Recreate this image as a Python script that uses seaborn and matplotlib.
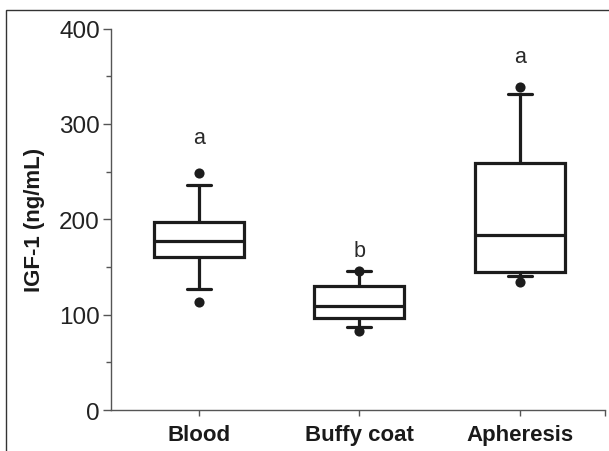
import matplotlib
matplotlib.use("Agg")
import matplotlib.pyplot as plt
from matplotlib.patches import Rectangle
from matplotlib.ticker import MultipleLocator
import seaborn as sns
import pandas as pd

# ---- data ----
categories = ["Blood", "Buffy coat", "Apheresis"]
whisker_low = [127, 87, 140]
q1 = [160, 96.5, 144.5]
median = [177, 109.5, 184]
q3 = [197.5, 130, 259]
whisker_high = [236, 146, 331.5]
outlier_low = [113, 82.5, 134.5]
outlier_high = [249, 146, 339]
letters = ["a", "b", "a"]
letter_y = [280, 161, 364.5]
y_ticks = [0, 100, 200, 300, 400]

# five-number table per group -> seaborn computes the same quartiles
rows = []
for c, a, b, m, d, e in zip(categories, whisker_low, q1, median, q3, whisker_high):
    for v in (a, b, m, d, e):
        rows.append({"group": c, "value": v})
box_df = pd.DataFrame(rows)

out_rows = []
for c, lo, hi in zip(categories, outlier_low, outlier_high):
    out_rows.append({"group": c, "value": lo})
    out_rows.append({"group": c, "value": hi})
out_df = pd.DataFrame(out_rows)

sns.set_style("ticks")
plt.rcParams["font.family"] = ["Liberation Sans", "DejaVu Sans"]

fig = plt.figure(figsize=(6.09, 4.52), dpi=100)
ax = fig.add_axes([0.1823, 0.0907, 0.9929 - 0.1823, 0.9347 - 0.0907])

ink = "#1c1c1c"
sns.boxplot(data=box_df, x="group", y="value", order=categories, ax=ax,
            color="white", linecolor=ink, linewidth=2.3, width=0.56,
            whis=(0, 100), showfliers=False, capwidths=0.15)
sns.stripplot(data=out_df, x="group", y="value", order=categories, ax=ax,
              jitter=False, color=ink, size=7.3, linewidth=0, zorder=5)

for i, (lab, yv) in enumerate(zip(letters, letter_y)):
    ax.text(i, yv, lab, ha="center", va="baseline", fontsize=15.5, color="#2a2a2a")

ax.set_ylim(0, 400)
ax.set_xlim(-0.547, 2.528)
ax.set_yticks(y_ticks)
ax.yaxis.set_minor_locator(MultipleLocator(50))
ax.set_xticks([0, 1, 2, 2.528])
ax.set_xticklabels(categories + [""], fontsize=16, fontweight="bold", color="#1a1a1a")
ax.tick_params(axis="y", labelsize=17.5, colors="#555555", labelcolor="#222222",
               length=6, width=1, pad=2)
ax.tick_params(axis="y", which="minor", length=3.5, width=1, colors="#555555")
ax.tick_params(axis="x", length=4, width=1, colors="#555555", labelcolor="#1a1a1a", pad=6)
ax.set_xlabel("")
ax.set_ylabel("IGF-1 (ng/mL)", fontsize=16, fontweight="bold", color="#1a1a1a", labelpad=10)

for side in ("top", "right"):
    ax.spines[side].set_visible(False)
for side in ("left", "bottom"):
    ax.spines[side].set_color("#555555")
    ax.spines[side].set_linewidth(1.0)

# outer frame of the figure panel
fig.patches.append(Rectangle((5.5 / 609, -0.05), (640 - 5.5) / 609, 1.05 - 10.5 / 452,
                             transform=fig.transFigure, fill=False,
                             edgecolor="#333333", linewidth=1.0))

fig.savefig("out.png", dpi=100)
